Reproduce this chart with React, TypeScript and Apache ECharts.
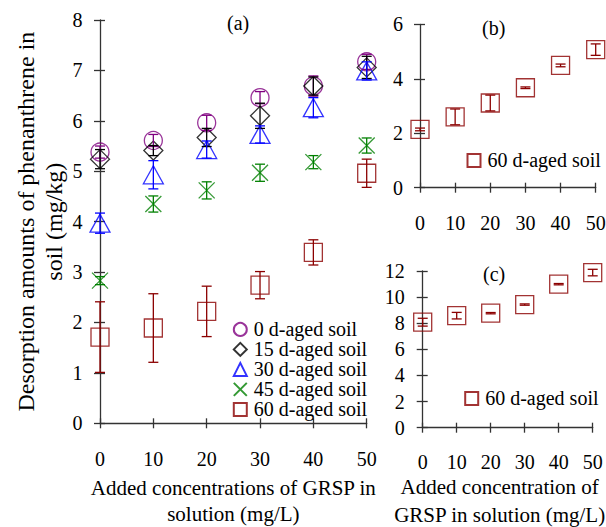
import React, { useEffect, useRef } from "react";
import * as echarts from "echarts";

const xValues = [0, 10, 20, 30, 40, 50];

// Panel (a)
const aged0 = [5.38, 5.61, 5.96, 6.46, 6.69, 7.17];
const aged0Err = [0.12, 0.12, 0.15, 0.12, 0.2, 0.15];
const aged15 = [5.24, 5.41, 5.67, 6.1, 6.69, 7.06];
const aged15Err = [0.19, 0.1, 0.18, 0.25, 0.18, 0.22];
const aged30 = [3.97, 4.93, 5.43, 5.73, 6.26, 6.99];
const aged30Err = [0.2, 0.28, 0.17, 0.17, 0.2, 0.18];
const aged45 = [2.83, 4.35, 4.62, 4.97, 5.18, 5.51];
const aged45Err = [0.08, 0.16, 0.17, 0.17, 0.13, 0.15];
const aged60 = [1.71, 1.89, 2.22, 2.74, 3.39, 4.96];
const aged60Err = [0.7, 0.68, 0.5, 0.27, 0.25, 0.28];

// Panel (b)
const panelB = [2.14, 2.6, 3.11, 3.67, 4.49, 5.07];
const panelBErr = [0.05, 0.29, 0.29, 0.03, 0.05, 0.21];

// Panel (c)
const panelC = [8.08, 8.58, 8.77, 9.43, 10.99, 11.88];
const panelCErr = [0.3, 0.25, 0.05, 0.05, 0.05, 0.25];

const legendNames = [
  "0 d-aged soil",
  "15 d-aged soil",
  "30 d-aged soil",
  "45 d-aged soil",
  "60 d-aged soil",
];

const FONT = "Liberation Serif";
const FS = 20;
const AXIS_COLOR = "#333";
const PURPLE = "#800080";
const BLACK = "#000000";
const BLUE = "#0000ff";
const GREEN = "#008000";
const DARKRED = "#8b0000";
const X_PATH = "path://M0,0L10,10M10,0L0,10";

function pts(vals: number[]) {
  return xValues.map((x, i) => [x, vals[i]]);
}
function errPts(vals: number[], errs: number[]) {
  return xValues.map((x, i) => [x, vals[i], errs[i]]);
}

function scatter(name: string, vals: number[], symbol: string, color: string, size: number | number[], axis: number) {
  return {
    type: "scatter",
    name,
    xAxisIndex: axis,
    yAxisIndex: axis,
    symbol,
    symbolSize: size,
    data: pts(vals),
    itemStyle: { color: "transparent", borderColor: color, borderWidth: 1.3 },
    z: 3,
  };
}

function errorBars(name: string, vals: number[], errs: number[], color: string, axis: number) {
  return {
    type: "custom",
    name,
    xAxisIndex: axis,
    yAxisIndex: axis,
    data: errPts(vals, errs),
    encode: { x: 0, y: 1 },
    clip: false,
    z: 4,
    renderItem: (params: any, api: any) => {
      const x = api.value(0);
      const y = api.value(1);
      const e = api.value(2);
      const top = api.coord([x, y + e]);
      const bot = api.coord([x, y - e]);
      const w = 5;
      const style = { stroke: color, lineWidth: 1.3 };
      return {
        type: "group",
        children: [
          { type: "line", shape: { x1: top[0], y1: top[1], x2: bot[0], y2: bot[1] }, style },
          { type: "line", shape: { x1: top[0] - w, y1: top[1], x2: top[0] + w, y2: top[1] }, style },
          { type: "line", shape: { x1: bot[0] - w, y1: bot[1], x2: bot[0] + w, y2: bot[1] }, style },
        ],
      };
    },
  };
}

function xAxisPair(
  grid: number,
  labelMargin: number,
  name: string,
  nameGap: number,
  nameLineHeight: number,
  namePad: number[]
) {
  return [
    {
      type: "value",
      gridIndex: grid,
      position: "bottom",
      min: 0,
      max: 50,
      interval: 10,
      splitLine: { show: false },
      axisLine: { show: true, onZero: false, lineStyle: { color: AXIS_COLOR, width: 1.3 } },
      axisTick: { show: true, length: 5, lineStyle: { color: AXIS_COLOR, width: 1.3 } },
      axisLabel: { margin: labelMargin, color: "#000", fontSize: FS, fontFamily: FONT },
      name,
      nameLocation: "middle",
      nameGap,
      nameTextStyle: {
        color: "#000",
        fontSize: 21,
        fontFamily: FONT,
        lineHeight: nameLineHeight,
        verticalAlign: "top",
        padding: namePad,
      },
    },
    {
      type: "value",
      gridIndex: grid,
      position: "bottom",
      min: 0,
      max: 50,
      interval: 10,
      splitLine: { show: false },
      axisLine: { show: false, onZero: false },
      axisTick: { show: true, inside: true, length: 5, lineStyle: { color: AXIS_COLOR, width: 1.3 } },
      axisLabel: { show: false },
    },
  ];
}

function yAxisPair(grid: number, max: number, interval: number, labelMargin: number, extra: any) {
  return [
    {
      type: "value",
      gridIndex: grid,
      position: "left",
      min: 0,
      max,
      interval,
      splitLine: { show: false },
      axisLine: { show: true, onZero: false, lineStyle: { color: AXIS_COLOR, width: 1.3 } },
      axisTick: { show: true, length: 6, lineStyle: { color: AXIS_COLOR, width: 1.3 } },
      axisLabel: { margin: labelMargin, color: "#000", fontSize: FS, fontFamily: FONT },
      ...extra,
    },
    {
      type: "value",
      gridIndex: grid,
      position: "left",
      min: 0,
      max,
      interval,
      splitLine: { show: false },
      axisLine: { show: false, onZero: false },
      axisTick: { show: true, inside: true, length: 5, lineStyle: { color: AXIS_COLOR, width: 1.3 } },
      axisLabel: { show: false },
    },
  ];
}

function legendFor(names: string[], left: number, top: number, gap: number) {
  return {
    data: names,
    orient: "vertical",
    left,
    top,
    padding: 0,
    itemWidth: 13,
    itemHeight: 13,
    itemGap: gap,
    textStyle: { color: "#000", fontSize: FS, fontFamily: FONT, lineHeight: 19.2, padding: [0, 0, 0, 2] },
    selectedMode: false,
  };
}

export default function App() {
  const ref = useRef<HTMLDivElement>(null);
  useEffect(() => {
    document.body.style.margin = "0";
    if (!ref.current) return;
    const chart = echarts.init(ref.current, null, { renderer: "svg" });
    const option: any = {
      animation: false,
      backgroundColor: "#fff",
      textStyle: { fontFamily: FONT },
      grid: [
        { left: 100, top: 20, width: 266.7, height: 403.3, outerBoundsMode: "none", containLabel: false },
        { left: 420, top: 24.3, width: 175.7, height: 163.4, outerBoundsMode: "none", containLabel: false },
        { left: 422.7, top: 271, width: 170, height: 156.7, outerBoundsMode: "none", containLabel: false },
      ],
      xAxis: [
        ...xAxisPair(0, 26, "Added concentrations of GRSP in\nsolution (mg/L)", 51.7, 26, [0, 0, 0, 0]),
        ...xAxisPair(1, 25, "", 0, 24, [0, 0, 0, 0]),
        ...xAxisPair(2, 24, "Added concentration of\nGRSP in solution (mg/L)", 40, 28, [0, 16, 0, 0]),
      ],
      yAxis: [
        ...yAxisPair(0, 8, 1, 17.5, {
          name: "Desorption amounts of phenanthrene in\nsoil (mg/kg)",
          nameLocation: "middle",
          nameRotate: 90,
          nameGap: 32,
          nameTextStyle: { color: "#000", fontSize: 24, fontFamily: FONT, lineHeight: 28 },
        }),
        ...yAxisPair(1, 6, 2, 17, {}),
        ...yAxisPair(2, 12, 2, 18, {}),
      ],
      legend: [
        legendFor(legendNames, 232.8, 319.4, 0),
        legendFor(["60 d-aged soil"], 466.5, 150.4, 0),
        legendFor(["60 d-aged soil"], 464.2, 388.4, 0),
      ],
      graphic: [
        { type: "text", left: 227, top: 13, style: { text: "(a)", fontSize: FS, fontFamily: FONT, fill: "#000" } },
        { type: "text", left: 482, top: 18, style: { text: "(b)", fontSize: FS, fontFamily: FONT, fill: "#000" } },
        { type: "text", left: 483, top: 264, style: { text: "(c)", fontSize: FS, fontFamily: FONT, fill: "#000" } },
      ],
      series: [
        scatter("0 d-aged soil", aged0, "circle", PURPLE, 18, 0),
        scatter("15 d-aged soil", aged15, "diamond", BLACK, 19, 0),
        scatter("30 d-aged soil", aged30, "triangle", BLUE, [20, 18], 0),
        scatter("45 d-aged soil", aged45, X_PATH, GREEN, 16, 0),
        scatter("60 d-aged soil", aged60, "rect", DARKRED, 18, 0),
        errorBars("e0", aged0, aged0Err, PURPLE, 0),
        errorBars("e15", aged15, aged15Err, BLACK, 0),
        errorBars("e30", aged30, aged30Err, BLUE, 0),
        errorBars("e45", aged45, aged45Err, GREEN, 0),
        errorBars("e60", aged60, aged60Err, DARKRED, 0),
        scatter("60 d-aged soil", panelB, "rect", DARKRED, 18, 2),
        errorBars("eb", panelB, panelBErr, DARKRED, 2),
        scatter("60 d-aged soil", panelC, "rect", DARKRED, 18, 4),
        errorBars("ec", panelC, panelCErr, DARKRED, 4),
      ],
    };
    chart.setOption(option);
    return () => chart.dispose();
  }, []);
  return (
    <div
      ref={ref}
      style={{ position: "fixed", left: 0, top: 0, width: 606, height: 527, background: "#fff" }}
    />
  );
}
